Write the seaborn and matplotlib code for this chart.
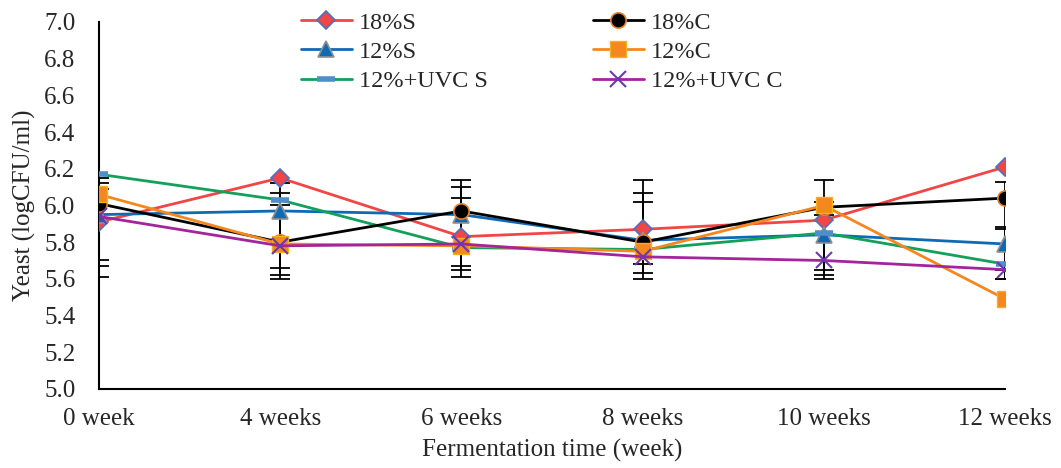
import matplotlib
matplotlib.use("Agg")
import matplotlib.pyplot as plt
import seaborn as sns
import pandas as pd
import numpy as np

weeks = ["0 week", "4 weeks", "6 weeks", "8 weeks", "10 weeks", "12 weeks"]
s18_S = [5.91, 6.15, 5.83, 5.87, 5.92, 6.21]
s18_C = [6.01, 5.80, 5.97, 5.80, 5.99, 6.04]
s12_S = [5.95, 5.97, 5.95, 5.81, 5.84, 5.79]
s12_C = [6.06, 5.79, 5.78, 5.75, 6.00, 5.49]
uvc_S = [6.17, 6.03, 5.77, 5.76, 5.85, 5.68]
uvc_C = [5.94, 5.78, 5.79, 5.72, 5.70, 5.65]

# asymmetric error bars (lower, upper)
err_18C_lo = [0.40, 0.18, 0.32, 0.12, 0.39, 0.44]
err_18C_hi = [0.14, 0.27, 0.17, 0.34, 0.15, 0.09]
err_12S_lo = [0.28, 0.31, 0.28, 0.18, 0.19, 0.14]
err_12S_hi = [0.17, 0.15, 0.15, 0.26, 0.18, 0.08]
err_uvcC_lo = [0.24, 0.18, 0.18, 0.12, 0.08, 0.05]
err_uvcC_hi = [0.15, 0.22, 0.25, 0.30, 0.25, 0.23]

names = ["18%S", "12%S", "12%+UVC S", "18%C", "12%C", "12%+UVC C"]
values = [s18_S, s12_S, uvc_S, s18_C, s12_C, uvc_C]
errors = [None, (err_12S_lo, err_12S_hi), None, (err_18C_lo, err_18C_hi), None,
          (err_uvcC_lo, err_uvcC_hi)]

styles = {
    "18%S": dict(color="#F04646", marker="D", mfc="#F04646", mec="#4A72C0", ms=9, mew=1.2),
    "18%C": dict(color="#000000", marker="o", mfc="#000000", mec="#E8802A", ms=11, mew=1.2),
    "12%S": dict(color="#0F6AB4", marker="^", mfc="#0F6AB4", mec="#909090", ms=11, mew=1.2),
    "12%C": dict(color="#F5871F", marker="s", mfc="#F5871F", mec="#F2B21C", ms=11, mew=1.0),
    "12%+UVC S": dict(color="#12A05A", marker="_", mfc="#4E8FC9", mec="#4E8FC9", ms=13, mew=4),
    "12%+UVC C": dict(color="#A3249B", marker="x", mfc="#7030A0", mec="#6A38B0", ms=11, mew=1.5),
}

sns.set_theme(style="white")
plt.rcParams["font.family"] = ["Liberation Serif", "DejaVu Serif"]

fig = plt.figure(figsize=(10.61, 4.68), dpi=100)
ax = fig.add_axes([0.0933, 0.169, 0.854, 0.784])

x = np.arange(len(weeks))
for name, vals, err in zip(names, values, errors):
    st = styles[name]
    df = pd.DataFrame({"x": x, "y": vals})
    sns.lineplot(data=df, x="x", y="y", ax=ax, color=st["color"], linewidth=2.0,
                 marker=st["marker"], markersize=st["ms"], markerfacecolor=st["mfc"],
                 markeredgecolor=st["mec"], markeredgewidth=st["mew"], label=name,
                 zorder=3)
    if err is not None:
        ax.errorbar(x, vals, yerr=[err[0], err[1]], fmt="none", ecolor="black",
                    elinewidth=1.3, capsize=7, capthick=1.3, zorder=2.5)

ax.set_xlim(0, 5)
ax.set_ylim(5.0, 7.0)
yt = np.arange(5.0, 7.01, 0.2)
ax.set_yticks(yt)
ax.set_yticklabels([f"{v:.1f}" for v in yt], fontsize=18)
ax.set_xticks(x)
ax.set_xticklabels(weeks, fontsize=18)
ax.tick_params(axis="y", length=0, pad=17)
ax.tick_params(axis="x", length=0, pad=14)
ax.set_xlabel("Fermentation time (week)", fontsize=18, labelpad=6)
ax.set_ylabel("Yeast (logCFU/ml)", fontsize=18, labelpad=6)
for side in ["top", "right"]:
    ax.spines[side].set_visible(False)
for side in ["left", "bottom"]:
    ax.spines[side].set_color("black")
    ax.spines[side].set_linewidth(1.5)

ax.legend(ncol=2, loc="upper left", bbox_to_anchor=(0.212, 1.055), frameon=False,
          fontsize=17.5, handlelength=2.1, columnspacing=4.3, labelspacing=0.3,
          handletextpad=0.3, borderaxespad=0)

fig.savefig("out.png", dpi=100)
